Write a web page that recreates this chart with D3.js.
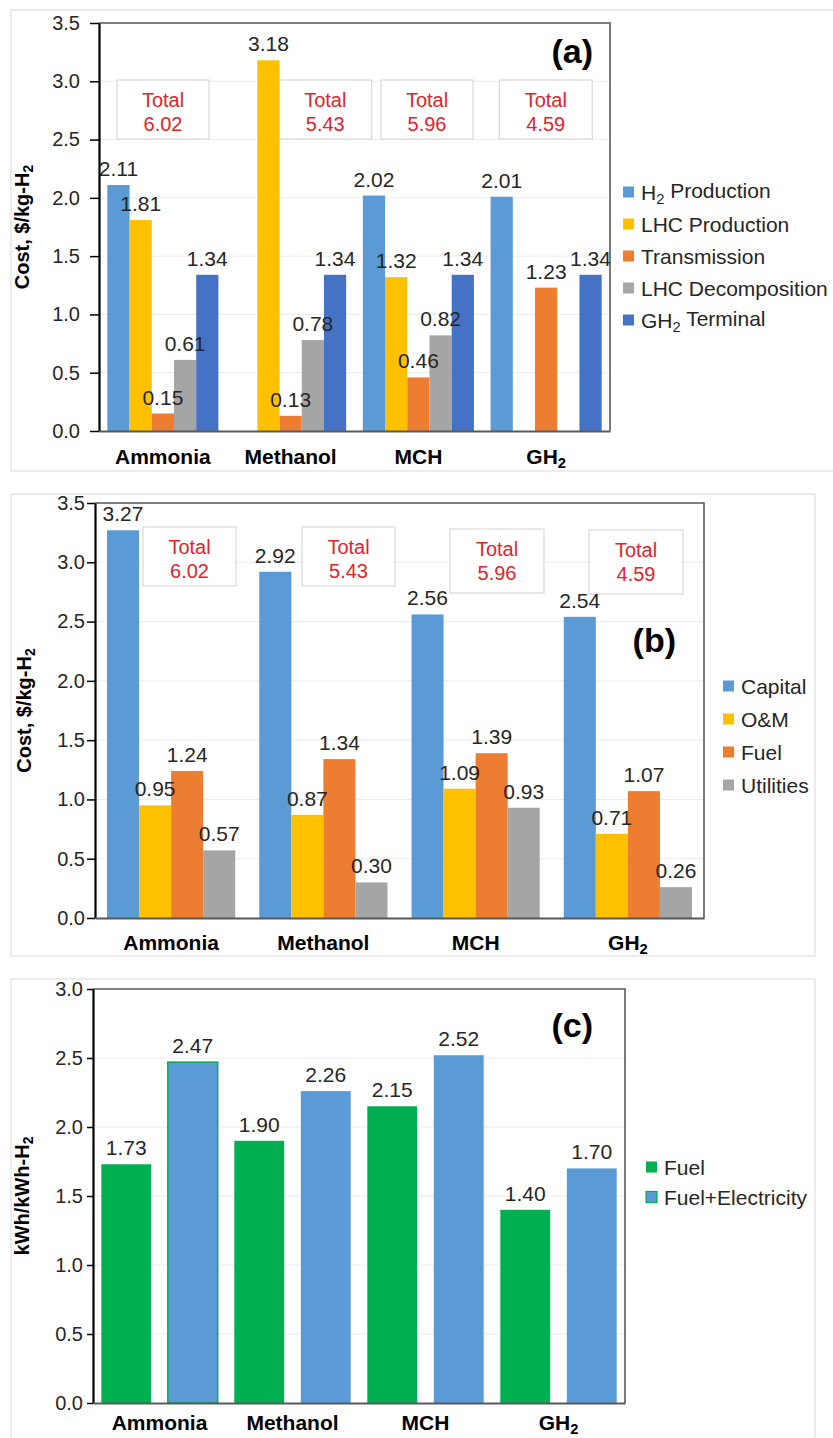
<!DOCTYPE html>
<html>
<head>
<meta charset="utf-8">
<script src="https://cdn.jsdelivr.net/npm/d3@7"></script>
<style>
  body { margin: 0; background: #fff; }
  svg { display: block; }
  text { font-family: "Liberation Sans", Arial, Helvetica, sans-serif; }
</style>
</head>
<body>
<svg id="fig" width="833" height="1438"></svg>
<script>
// ---- Data ----------------------------------------------------------------
// "_2" marks a subscript digit in a label.
const categories = ["Ammonia", "Methanol", "MCH", "GH_2"];

// (a) cost by supply-chain stage, $/kg-H2
const stageSeries = ["H_2 Production", "LHC Production", "Transmission", "LHC Decomposition", "GH_2 Terminal"];
const h2Production     = [2.11, null, 2.02, 2.01];
const lhcProduction    = [1.81, 3.18, 1.32, null];
const transmission     = [0.15, 0.13, 0.46, 1.23];
const lhcDecomposition = [0.61, 0.78, 0.82, null];
const gh2Terminal      = [1.34, 1.34, 1.34, 1.34];
const stageTotals      = ["6.02", "5.43", "5.96", "4.59"];

// (b) cost by type, $/kg-H2
const costSeries = ["Capital", "O&M", "Fuel", "Utilities"];
const capital   = [3.27, 2.92, 2.56, 2.54];
const om        = [0.95, 0.87, 1.09, 0.71];
const fuelCost  = [1.24, 1.34, 1.39, 1.07];
const utilities = [0.57, 0.30, 0.93, 0.26];
const costTotals = ["6.02", "5.43", "5.96", "4.59"];

// (c) energy use, kWh/kWh-H2
const energySeries = ["Fuel", "Fuel+Electricity"];
const fuelEnergy     = [1.73, 1.90, 2.15, 1.40];
const fuelElecEnergy = [2.47, 2.26, 2.52, 1.70];

const costTicks   = [0, 0.5, 1.0, 1.5, 2.0, 2.5, 3.0, 3.5];
const energyTicks = [0, 0.5, 1.0, 1.5, 2.0, 2.5, 3.0];

// ---- Helpers ---------------------------------------------------------------
const svg = d3.select("#fig");
const TEXT = "#262626";

// Writes a label into a <text>, turning "_d" into a subscript digit.
function rich(textSel, str) {
  textSel.text(null);
  const parts = str.split(/_(\d)/);
  let lowered = false;
  parts.forEach((p, i) => {
    if (p === "") return;
    const sub = i % 2 === 1;
    const t = textSel.append("tspan").text(p);
    if (sub) {
      t.attr("font-size", "70%").attr("dy", "0.3em");
      lowered = true;
    } else if (lowered) {
      t.attr("dy", "-0.3em");
      lowered = false;
    }
  });
}

function drawPanel(cfg) {
  const g = svg.append("g");

  // panel frame
  g.append("rect")
    .attr("x", cfg.frame[0]).attr("y", cfg.frame[1])
    .attr("width", cfg.frame[2]).attr("height", cfg.frame[3])
    .attr("fill", "#fff").attr("stroke", "#d9d9d9").attr("stroke-width", 1);

  const x0 = d3.scaleBand().domain(categories).range([cfg.left, cfg.right]);
  const x1 = d3.scaleBand().domain(cfg.series).range([0, x0.bandwidth()])
    .paddingInner(cfg.innerPad).paddingOuter(cfg.outerPad);
  const y = d3.scaleLinear().domain([0, cfg.ticks[cfg.ticks.length - 1]])
    .range([cfg.bottom, cfg.top]);

  // gridlines
  g.append("g").selectAll("line")
    .data(cfg.ticks.filter(t => t > 0))
    .join("line")
    .attr("x1", cfg.left).attr("x2", cfg.right)
    .attr("y1", d => y(d)).attr("y2", d => y(d))
    .attr("stroke", "#ececec").attr("stroke-width", 1);

  // top and right frame of the plot area
  g.append("path")
    .attr("d", `M${cfg.left},${cfg.top}H${cfg.right}V${cfg.bottom}`)
    .attr("fill", "none").attr("stroke", "#595959").attr("stroke-width", 1.6);

  // total-cost boxes
  if (cfg.totals) {
    cfg.totals.forEach((tot, i) => {
      const b = cfg.boxes[i];
      const bx = x0(categories[i]) + b.dx;
      const by = cfg.top + b.dy;
      g.append("rect")
        .attr("x", bx).attr("y", by).attr("width", b.w).attr("height", b.h)
        .attr("fill", "#fff").attr("stroke", "#d9d9d9").attr("stroke-width", 1.2);
      const tt = g.append("text")
        .attr("x", bx + b.w / 2).attr("text-anchor", "middle")
        .attr("fill", "#e0242c").attr("font-size", 20);
      tt.append("tspan").attr("x", bx + b.w / 2).attr("y", by + 27).text("Total");
      tt.append("tspan").attr("x", bx + b.w / 2).attr("y", by + 51).text(tot);
    });
  }

  // bars
  const rows = [];
  categories.forEach((c, i) => {
    cfg.series.forEach((s, j) => {
      const v = cfg.values[j][i];
      if (v !== null && v !== undefined) rows.push({ c, s, j, v });
    });
  });

  const bars = g.append("g");
  bars.selectAll("rect")
    .data(rows)
    .join("rect")
    .attr("x", d => x0(d.c) + x1(d.s))
    .attr("y", d => y(d.v))
    .attr("width", x1.bandwidth())
    .attr("height", d => y(0) - y(d.v))
    .attr("fill", d => cfg.colors[d.j])
    .attr("stroke", d => (cfg.outlined && cfg.outlined.c === d.c && cfg.outlined.s === d.s) ? "#00B050" : "none")
    .attr("stroke-width", 1.5);

  // value labels
  g.append("g").selectAll("text")
    .data(rows)
    .join("text")
    .attr("x", d => x0(d.c) + x1(d.s) + x1.bandwidth() / 2)
    .attr("y", d => y(d.v) - 9)
    .attr("text-anchor", "middle")
    .attr("font-size", 21)
    .attr("fill", TEXT)
    .text(d => d.v.toFixed(2));

  // y axis
  const ya = g.append("g")
    .attr("transform", `translate(${cfg.left},0)`)
    .call(d3.axisLeft(y).tickValues(cfg.ticks).tickFormat(d3.format(".1f"))
      .tickSize(cfg.tickSize).tickSizeOuter(0).tickPadding(cfg.tickPad));
  ya.select(".domain").attr("stroke", "#000").attr("stroke-width", 2.2);
  ya.selectAll(".tick line").attr("stroke", "#000").attr("stroke-width", 1.5);
  ya.selectAll(".tick text").attr("font-size", 20).attr("fill", TEXT)
    .attr("font-family", '"Liberation Sans", Arial, sans-serif');

  // x axis
  const xa = g.append("g")
    .attr("transform", `translate(0,${cfg.bottom})`)
    .call(d3.axisBottom(x0).tickSize(0).tickPadding(cfg.catPad).tickSizeOuter(0));
  xa.select(".domain").attr("stroke", "#595959").attr("stroke-width", 2.2);
  xa.selectAll(".tick text")
    .attr("font-size", 21).attr("font-weight", "bold").attr("fill", "#000")
    .attr("font-family", '"Liberation Sans", Arial, sans-serif')
    .each(function (d) { rich(d3.select(this), d); });

  // y-axis title
  const yt = g.append("text")
    .attr("transform", `translate(${cfg.titleX},${(cfg.top + cfg.bottom) / 2}) rotate(-90)`)
    .attr("text-anchor", "middle")
    .attr("font-size", 20).attr("font-weight", "bold").attr("fill", "#000");
  rich(yt, cfg.yTitle);

  // panel tag
  g.append("text")
    .attr("x", cfg.tag[0]).attr("y", cfg.tag[1])
    .attr("text-anchor", "end")
    .attr("font-size", 34).attr("font-weight", "bold").attr("fill", "#000")
    .text(cfg.tagText);

  // legend
  const lg = g.append("g");
  cfg.series.forEach((s, j) => {
    const cy = cfg.legend.y + j * cfg.legend.step;
    const isOutlined = cfg.outlined && cfg.outlined.s === s;
    lg.append("rect")
      .attr("x", cfg.legend.x).attr("y", cy - 5.5)
      .attr("width", 11).attr("height", 11)
      .attr("fill", cfg.colors[j])
      .attr("stroke", isOutlined ? "#00B050" : "none").attr("stroke-width", 1.2);
    const t = lg.append("text")
      .attr("x", cfg.legend.x + 18).attr("y", cy + 7.5)
      .attr("font-size", 21).attr("fill", TEXT);
    rich(t, s);
  });
}

// ---- Panels ----------------------------------------------------------------
drawPanel({
  frame: [11, 10, 840, 461],
  left: 99, right: 610, top: 23, bottom: 431,
  series: stageSeries,
  values: [h2Production, lhcProduction, transmission, lhcDecomposition, gh2Terminal],
  colors: ["#5B9BD5", "#FFC000", "#ED7D31", "#A5A5A5", "#4472C4"],
  innerPad: 0, outerPad: 0.375,
  ticks: costTicks, tickSize: 9, tickPad: 10, catPad: 18,
  totals: stageTotals,
  boxes: [
    { dx: 18, dy: 57, w: 92, h: 59 },
    { dx: 52, dy: 57, w: 93, h: 59 },
    { dx: 26.5, dy: 57, w: 92, h: 59 },
    { dx: 17, dy: 57, w: 93, h: 59 }
  ],
  yTitle: "Cost, $/kg-H_2", titleX: 29,
  tag: [593, 63], tagText: "(a)",
  legend: { x: 623, y: 192, step: 32 }
});

drawPanel({
  frame: [11, 494, 804, 462],
  left: 95, right: 704, top: 503, bottom: 918,
  series: costSeries,
  values: [capital, om, fuelCost, utilities],
  colors: ["#5B9BD5", "#FFC000", "#ED7D31", "#A5A5A5"],
  innerPad: 0, outerPad: 0.375,
  ticks: costTicks, tickSize: 8, tickPad: 2, catPad: 17,
  totals: costTotals,
  boxes: [
    { dx: 48, dy: 24, w: 93, h: 59 },
    { dx: 54.75, dy: 24, w: 93, h: 59 },
    { dx: 50.5, dy: 26, w: 94, h: 64 },
    { dx: 37.25, dy: 27, w: 94, h: 64 }
  ],
  yTitle: "Cost, $/kg-H_2", titleX: 31,
  tag: [676, 652], tagText: "(b)",
  legend: { x: 723, y: 686, step: 33 }
});

drawPanel({
  frame: [11, 979, 804, 470],
  left: 93, right: 625, top: 989, bottom: 1403,
  series: energySeries,
  values: [fuelEnergy, fuelElecEnergy],
  colors: ["#00B050", "#5B9BD5"],
  innerPad: 0.25, outerPad: 0.125,
  ticks: energyTicks, tickSize: 6, tickPad: 4, catPad: 12,
  outlined: { c: "Ammonia", s: "Fuel+Electricity" },
  yTitle: "kWh/kWh-H_2", titleX: 29,
  tag: [593, 1037], tagText: "(c)",
  legend: { x: 646, y: 1167, step: 30 }
});
</script>
</body>
</html>
